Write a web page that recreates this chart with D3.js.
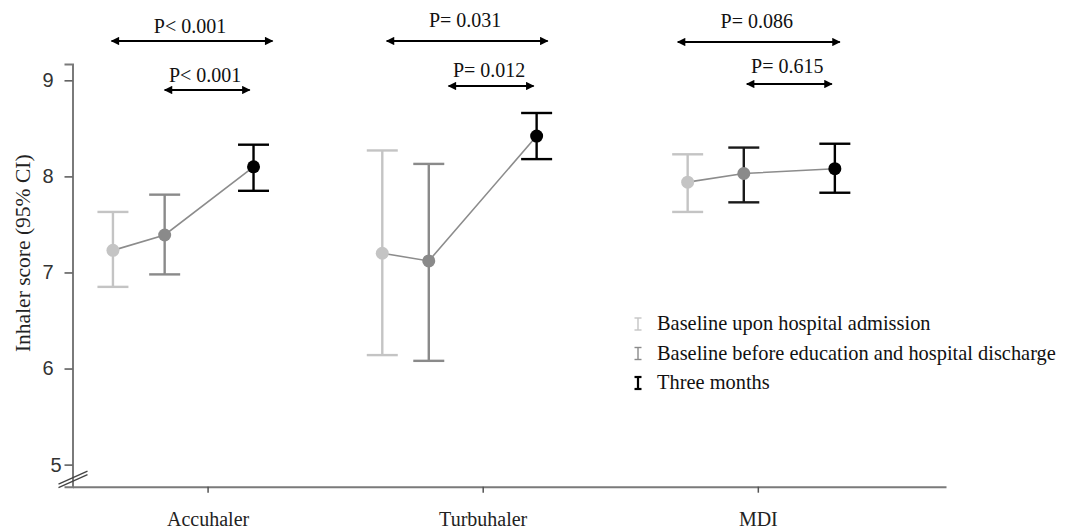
<!DOCTYPE html>
<html>
<head>
<meta charset="utf-8">
<script src="https://cdn.jsdelivr.net/npm/d3@7"></script>
<style>
  html, body { margin: 0; padding: 0; background: #fff; }
  svg { display: block; }
</style>
</head>
<body>
<svg id="chart" width="1070" height="532"></svg>
<script>
// ---------- data ----------
const categories = ["Accuhaler", "Turbuhaler", "MDI"];
const seriesNames = [
  "Baseline upon hospital admission",
  "Baseline before education and hospital discharge",
  "Three months"
];
// means and 95% CI per series, one value per category
const meanAdmission = [7.23, 7.20, 7.94];
const lowAdmission  = [6.85, 6.14, 7.63];
const highAdmission = [7.63, 8.27, 8.23];

const meanDischarge = [7.39, 7.12, 8.03];
const lowDischarge  = [6.98, 6.08, 7.73];
const highDischarge = [7.81, 8.13, 8.30];

const meanThreeMonths = [8.10, 8.42, 8.08];
const lowThreeMonths  = [7.85, 8.18, 7.83];
const highThreeMonths = [8.33, 8.66, 8.34];

// horizontal offsets of each time point within its category (category units)
const offsetAdmission   = [-0.344, -0.365, -0.255];
const offsetDischarge   = [-0.156, -0.196, -0.051];
const offsetThreeMonths = [0.167, 0.196, 0.280];

const yTicks = [5, 6, 7, 8, 9];

// p-value annotations: span in category units relative to category
const pLabelsOverall = ["P< 0.001", "P= 0.031", "P= 0.086"];
const pSpanOverall   = [[-0.349, 0.236], [-0.349, 0.236], [-0.291, 0.298]];
const pLabelsLater   = ["P< 0.001", "P= 0.012", "P= 0.615"];
const pSpanLater     = [[-0.156, 0.153], [-0.124, 0.185], [-0.040, 0.269]];

// ---------- layout ----------
const svg = d3.select("#chart");
const serif = "'Liberation Serif', 'Times New Roman', serif";
const sans = "'Liberation Sans', Arial, sans-serif";

const x = d3.scaleLinear().domain([-0.491, 2.684]).range([72.5, 946]);
const y = d3.scaleLinear().domain([4.77, 9.17]).range([486.7, 64]);

const axisColor = "#7a7a7a";
const colors = ["#c4c4c4", "#8a8a8a", "#000000"];

// ---------- axes ----------
const yAxis = d3.axisLeft(y).tickValues(yTicks).tickSize(8).tickPadding(11).tickFormat(d3.format("d"));
const gy = svg.append("g").attr("transform", `translate(${x.range()[0]},0)`).call(yAxis);
gy.select(".domain").attr("stroke", axisColor).attr("stroke-width", 2);
gy.selectAll(".tick line").attr("stroke", "#555").attr("stroke-width", 1.5);
gy.selectAll(".tick text").attr("font-family", sans).attr("font-size", 20).attr("fill", "#333")
  .attr("dx", d => d === 5 ? 8 : 0);

const xAxis = d3.axisBottom(x).tickValues([0, 1, 2]).tickSize(6).tickSizeOuter(0)
  .tickFormat(i => categories[i]);
const gx = svg.append("g").attr("transform", `translate(0,${y.range()[0]})`).call(xAxis);
gx.select(".domain").attr("stroke", axisColor).attr("stroke-width", 2);
gx.selectAll(".tick line").attr("stroke", "#555").attr("stroke-width", 1.5);
gx.selectAll(".tick text").attr("font-family", serif).attr("font-size", 20).attr("fill", "#222")
  .attr("dy", 0).attr("y", 39);

// axis break marks near y = 5
const breakY = y(4.87);
[0, 3.5].forEach(dy => {
  svg.append("line")
    .attr("x1", x.range()[0] - 14).attr("y1", breakY + 7 + dy)
    .attr("x2", x.range()[0] + 15).attr("y2", breakY - 6 + dy)
    .attr("stroke", "#444").attr("stroke-width", 1.3);
});

// y axis title
svg.append("text")
  .attr("transform", `translate(30,${y(7.2)}) rotate(-90)`)
  .attr("text-anchor", "middle")
  .attr("font-family", serif).attr("font-size", 21.5).attr("fill", "#222")
  .text("Inhaler score (95% CI)");

// ---------- data marks ----------
const series = [
  { mean: meanAdmission, low: lowAdmission, high: highAdmission, off: offsetAdmission },
  { mean: meanDischarge, low: lowDischarge, high: highDischarge, off: offsetDischarge },
  { mean: meanThreeMonths, low: lowThreeMonths, high: highThreeMonths, off: offsetThreeMonths }
];

const capW = 15.5;
categories.forEach((cat, ci) => {
  const pts = series.map((s, si) => ({
    si, xv: ci + s.off[ci], m: s.mean[ci], lo: s.low[ci], hi: s.high[ci]
  }));
  svg.append("path")
    .datum(pts)
    .attr("d", d3.line().x(d => x(d.xv)).y(d => y(d.m)))
    .attr("fill", "none").attr("stroke", "#8c8c8c").attr("stroke-width", 1.6);
  pts.forEach(p => {
    // MDI discharge bar drawn dark in the original
    const barColor = (ci === 2 && p.si === 1) ? "#1a1a1a" : colors[p.si];
    const g = svg.append("g").attr("stroke", barColor).attr("stroke-width", 2.4);
    g.append("line").attr("x1", x(p.xv)).attr("x2", x(p.xv)).attr("y1", y(p.lo)).attr("y2", y(p.hi));
    g.append("line").attr("x1", x(p.xv) - capW).attr("x2", x(p.xv) + capW).attr("y1", y(p.lo)).attr("y2", y(p.lo));
    g.append("line").attr("x1", x(p.xv) - capW).attr("x2", x(p.xv) + capW).attr("y1", y(p.hi)).attr("y2", y(p.hi));
    svg.append("circle").attr("cx", x(p.xv)).attr("cy", y(p.m)).attr("r", 6.5)
      .attr("fill", colors[p.si]);
  });
});

// ---------- p-value arrows ----------
const defs = svg.append("defs");
["start", "end"].forEach(k => {
  defs.append("marker")
    .attr("id", "arr-" + k)
    .attr("viewBox", "0 0 10 10").attr("refX", k === "end" ? 9 : 1).attr("refY", 5)
    .attr("markerWidth", 5).attr("markerHeight", 4.2).attr("orient", "auto")
    .attr("markerUnits", "strokeWidth")
    .append("path")
    .attr("d", k === "end" ? "M0,0 L10,5 L0,10 Z" : "M10,0 L0,5 L10,10 Z")
    .attr("fill", "#000");
});

function pArrow(ci, span, label, lineY, textY) {
  const x1 = x(ci + span[0]), x2 = x(ci + span[1]);
  svg.append("line")
    .attr("x1", x1).attr("x2", x2).attr("y1", lineY).attr("y2", lineY)
    .attr("stroke", "#000").attr("stroke-width", 2)
    .attr("marker-start", "url(#arr-start)").attr("marker-end", "url(#arr-end)");
  svg.append("text")
    .attr("x", (x1 + x2) / 2 - 2).attr("y", textY)
    .attr("text-anchor", "middle")
    .attr("font-family", serif).attr("font-size", 20).attr("fill", "#111")
    .text(label);
}
const overallLineY = [41, 41, 42];
const overallTextY = [33, 27, 28];
const laterLineY = [90, 86, 84];
const laterTextY = [82, 77, 73];
categories.forEach((c, ci) => {
  pArrow(ci, pSpanOverall[ci], pLabelsOverall[ci], overallLineY[ci], overallTextY[ci]);
  pArrow(ci, pSpanLater[ci], pLabelsLater[ci], laterLineY[ci], laterTextY[ci]);
});

// ---------- legend ----------
const legend = svg.append("g").attr("transform", "translate(638,330)");
seriesNames.forEach((name, i) => {
  const gy0 = i * 29.5;
  const bold = i === 2;
  const g = legend.append("g").attr("transform", `translate(0,${gy0})`)
    .attr("stroke", colors[i]).attr("stroke-width", bold ? 2.2 : 1.4);
  g.append("line").attr("x1", 0).attr("x2", 0).attr("y1", -12).attr("y2", 0);
  g.append("line").attr("x1", -3.5).attr("x2", 3.5).attr("y1", -12).attr("y2", -12);
  g.append("line").attr("x1", -3.5).attr("x2", 3.5).attr("y1", 0).attr("y2", 0);
  legend.append("text")
    .attr("x", 19).attr("y", gy0)
    .attr("font-family", serif).attr("font-size", 20.4).attr("fill", "#111")
    .text(name);
});
</script>
</body>
</html>
